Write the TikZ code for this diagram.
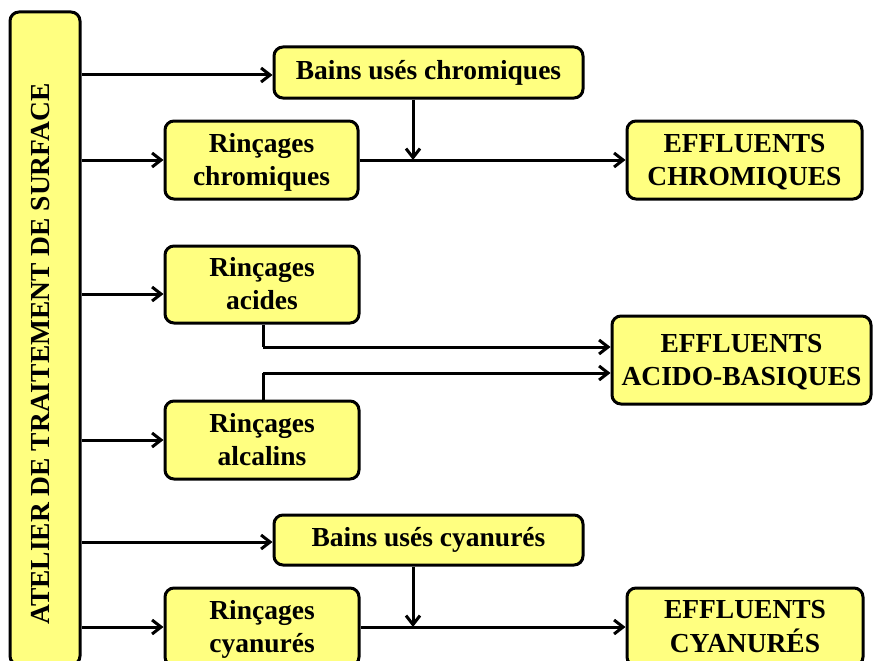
\documentclass[tikz,border=0pt]{standalone}
\usepackage{fontspec}
\setmainfont{Liberation Serif}
\usetikzlibrary{arrows.meta,calc}
\definecolor{boxyellow}{RGB}{255,255,128}
\newcommand{\twolines}[2]{\raisebox{-2pt}[\height][\depth]{\begin{tabular}{@{}c@{}}#1\\#2\end{tabular}}}
\tikzset{
  box/.style={draw=black, line width=3pt, fill=boxyellow, rounded corners=9pt,
    inner sep=0pt, align=center, font=\fontsize{27.5}{33}\selectfont\bfseries},
  arr/.style={draw=black, line width=3pt, -{Straight Barb[length=9pt,width=14pt,line width=3pt]}},
  ln/.style={draw=black, line width=3pt}
}
\begin{document}
\begin{tikzpicture}[x=1pt,y=-1pt]
\useasboundingbox (0,0) rectangle (873,661);
\fill[white] (0,0) rectangle (873,661);
% left box
\node[box, minimum width=70pt, minimum height=653pt] (atelier) at (45,338.5) {};
\node[font=\fontsize{27.5}{30}\selectfont\bfseries, rotate=90, inner sep=0pt] (title) at (41,354) {ATELIER DE TRAITEMENT DE SURFACE};
% boxes
\node[box, minimum width=309pt, minimum height=51pt] (bc) at (428.5,72.5) {Bains usés chromiques};
\node[box, minimum width=193pt, minimum height=78pt] (rc) at (261.5,160) {\twolines{Rinçages}{chromiques}};
\node[box, minimum width=235pt, minimum height=78pt] (ec) at (744.5,160) {\twolines{EFFLUENTS}{CHROMIQUES}};
\node[box, minimum width=194pt, minimum height=77pt] (ra) at (262,284.5) {\twolines{Rinçages}{acides}};
\node[box, minimum width=259pt, minimum height=88pt] (eab) at (741.5,360) {\twolines{EFFLUENTS}{ACIDO-BASIQUES}};
\node[box, minimum width=194pt, minimum height=78pt] (rl) at (262,440) {\twolines{Rinçages}{alcalins}};
\node[box, minimum width=309pt, minimum height=50pt] (bcy) at (428.5,540) {Bains usés cyanurés};
\node[box, minimum width=194pt, minimum height=78pt] (rcy) at (262,627) {\twolines{Rinçages}{cyanurés}};
\node[box, minimum width=236pt, minimum height=78pt] (ecy) at (745,627) {\twolines{EFFLUENTS}{CYANURÉS}};
% junction coordinates
\coordinate (jc) at (413,160);
\coordinate (jcy) at (413,627);
\coordinate (ka) at (263,347);
\coordinate (kl) at (263,373);
\coordinate (ya) at (0,294);
\coordinate (yb) at (0,75);
\coordinate (ybc) at (0,542);
% arrows from atelier
\draw[arr] (atelier.east |- yb) -- (bc.west |- yb);
\draw[arr] (atelier.east |- rc.west) -- (rc.west);
\draw[arr] (atelier.east |- ya) -- (ra.west |- ya);
\draw[arr] (atelier.east |- rl.west) -- (rl.west);
\draw[arr] (atelier.east |- ybc) -- (bcy.west |- ybc);
\draw[arr] (atelier.east |- rcy.west) -- (rcy.west);
% chromiques
\draw[arr] (bc.south -| jc) -- (jc);
\draw[arr] (rc.east) -- (ec.west);
% acido-basiques
\draw[ln] (ra.south -| ka) -- (ka);
\draw[arr] (ka) -- (eab.west |- ka);
\draw[ln] (rl.north -| kl) -- (kl);
\draw[arr] (kl) -- (eab.west |- kl);
% cyanures
\draw[arr] (bcy.south -| jcy) -- (jcy);
\draw[arr] (rcy.east) -- (ecy.west);
\end{tikzpicture}
\end{document}
